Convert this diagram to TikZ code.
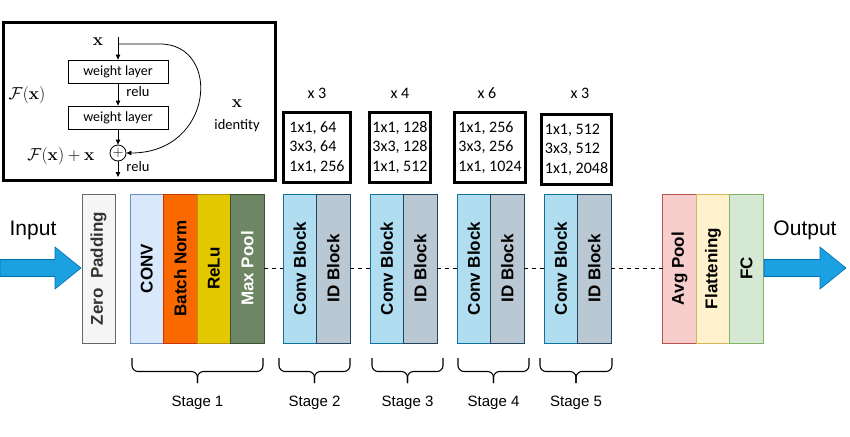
\documentclass[tikz,border=0pt]{standalone}
\usepackage[no-math]{fontspec}
\usepackage{graphicx}
\setmainfont{Liberation Sans}
\newfontfamily\calibri{Carlito}
\usetikzlibrary{positioning,arrows.meta}

\definecolor{padfill}{HTML}{F5F5F5}  \definecolor{padline}{HTML}{666666}
\definecolor{convfill}{HTML}{DAE8FC} \definecolor{convline}{HTML}{6C8EBF}
\definecolor{bnfill}{HTML}{FA6800}   \definecolor{bnline}{HTML}{C73500}
\definecolor{relufill}{HTML}{E3C800} \definecolor{reluline}{HTML}{B09500}
\definecolor{poolfill}{HTML}{6D8764} \definecolor{poolline}{HTML}{3A5431}
\definecolor{cbfill}{HTML}{B1DDF0}   \definecolor{cbline}{HTML}{10739E}
\definecolor{idfill}{HTML}{BAC8D3}   \definecolor{idline}{HTML}{23445D}
\definecolor{avgfill}{HTML}{F8CECC}  \definecolor{avgline}{HTML}{B85450}
\definecolor{flatfill}{HTML}{FFF2CC} \definecolor{flatline}{HTML}{D6B656}
\definecolor{fcfill}{HTML}{D5E8D4}   \definecolor{fcline}{HTML}{82B366}
\definecolor{arrfill}{HTML}{1BA1E2}  \definecolor{arrline}{HTML}{006EAF}
\definecolor{padtext}{HTML}{333333}

\tikzset{
  layer/.style={draw, minimum width=33.5, minimum height=149, inner sep=0,
    outer sep=0, line width=0.8, font=\fontsize{17}{20}\selectfont\bfseries},
  cfg/.style={draw, line width=3.2, minimum height=70, inner sep=0, align=left,
    font=\calibri\fontsize{16}{19.5}\selectfont},
  mult/.style={font=\calibri\fontsize{16}{19}\selectfont},
  wlayer/.style={draw, line width=0.8, minimum width=100, minimum height=23,
    inner sep=0, font=\calibri\fontsize{14}{16}\selectfont},
  small/.style={font=\calibri\fontsize{14.5}{16}\selectfont},
  mathlbl/.style={font=\fontsize{18}{20}\selectfont},
  arr/.style={line width=0.8, -{Triangle[length=5pt,width=4.5pt]}},
  link/.style={dashed, dash pattern=on 4pt off 4pt, line width=0.8},
  bigarrow/.style={fill=arrfill, draw=arrline, line width=0.6},
  stagebrace/.style={line width=1.1, rounded corners=6},
  stage/.style={font=\fontsize{15}{18}\selectfont},
  io/.style={font=\fontsize{21}{24}\selectfont}
}

\begin{document}
\begin{tikzpicture}[x=1pt, y=-1pt]
  \useasboundingbox (0,0) rectangle (850,436);

  % residual block inset
  \draw [line width=3] (3.5,22.5) rectangle (275.5,180.5);
  \coordinate (xin) at (118,37);
  \coordinate (split) at (118,44);
  \node [mathlbl] (xtop) at (98,42) {$\mathbf{x}$};
  \node [wlayer] (wl1) at (118,71.5) {weight layer};
  \node [wlayer] (wl2) at (118,117.5) {weight layer};
  \node [draw, circle, line width=0.8, minimum size=16, inner sep=0,
         font=\fontsize{14}{14}\selectfont] (plus) at (118,153) {$+$};
  \coordinate (fout) at (118,177);
  \draw [arr] (xin) -- (wl1);
  \draw [arr] (wl1) -- (wl2);
  \draw [arr] (wl2) -- (plus);
  \draw [arr] (plus) -- (fout);
  \draw [arr] (split) -- (160,44) .. controls (222,44) and (214,153) .. (plus);
  \node [small] (relu1) at (138,92) {relu};
  \node [small] (relu2) at (138,167) {relu};
  \node [mathlbl] (fx) at (27,95) {$\mathcal{F}(\mathbf{x})$};
  \node [mathlbl] (fxx) at (61,156) {$\mathcal{F}(\mathbf{x})+\mathbf{x}$};
  \node [mathlbl] (xid) at (237,104) {$\mathbf{x}$};
  \node [small] (ident) at (237,126) {identity};

  % bottleneck settings
  \node [cfg, minimum width=67] (cfg2) at (317,147.5) {1x1, 64\\3x3, 64\\1x1, 256};
  \node [cfg, minimum width=61] (cfg3) at (400,147.5) {1x1, 128\\3x3, 128\\1x1, 512};
  \node [cfg, minimum width=71] (cfg4) at (490,147.5) {1x1, 256\\3x3, 256\\1x1, 1024};
  \node [cfg, minimum width=70] (cfg5) at (576.5,149.5) {1x1, 512\\3x3, 512\\1x1, 2048};
  \node [mult] (m2) at (317,93) {x 3};
  \node [mult] (m3) at (400,93) {x 4};
  \node [mult] (m4) at (487,93) {x 6};
  \node [mult] (m5) at (580,93) {x 3};

  % layers
  \node [layer, fill=padfill, draw=padline, text=padtext, minimum width=33]
        (pad) at (98.5,268.5) {\rotatebox{90}{Zero\ \ Padding}};
  \node [layer, fill=convfill, draw=convline] (conv) at (146.75,268.5) {\rotatebox{90}{CONV}};
  \node [layer, fill=bnfill, draw=bnline, right=0pt of conv] (bn) {\rotatebox{90}{Batch Norm}};
  \node [layer, fill=relufill, draw=reluline, right=0pt of bn] (relu) {\rotatebox{90}{ReLu}};
  \node [layer, fill=poolfill, draw=poolline, text=white, right=0pt of relu] (maxpool) {\rotatebox{90}{Max Pool}};

  \node [layer, fill=cbfill, draw=cbline] (cb2) at (299.75,268.5) {\rotatebox{90}{Conv Block}};
  \node [layer, fill=idfill, draw=idline, right=0pt of cb2] (id2) {\rotatebox{90}{ID Block}};
  \node [layer, fill=cbfill, draw=cbline] (cb3) at (386.75,268.5) {\rotatebox{90}{Conv Block}};
  \node [layer, fill=idfill, draw=idline, right=0pt of cb3] (id3) {\rotatebox{90}{ID Block}};
  \node [layer, fill=cbfill, draw=cbline] (cb4) at (473.75,268.5) {\rotatebox{90}{Conv Block}};
  \node [layer, fill=idfill, draw=idline, right=0pt of cb4] (id4) {\rotatebox{90}{ID Block}};
  \node [layer, fill=cbfill, draw=cbline] (cb5) at (560.75,268.5) {\rotatebox{90}{Conv Block}};
  \node [layer, fill=idfill, draw=idline, right=0pt of cb5] (id5) {\rotatebox{90}{ID Block}};

  \node [layer, fill=avgfill, draw=avgline] (avgpool) at (679.5,268.5) {\rotatebox{90}{Avg Pool}};
  \node [layer, fill=flatfill, draw=flatline, right=0pt of avgpool] (flat) {\rotatebox{90}{Flattening}};
  \node [layer, fill=fcfill, draw=fcline, right=0pt of flat] (fc) {\rotatebox{90}{FC}};

  \draw [link] (maxpool) -- (cb2);
  \draw [link] (id2) -- (cb3);
  \draw [link] (id3) -- (cb4);
  \draw [link] (id4) -- (cb5);
  \draw [link] (id5) -- (avgpool);

  % input / output
  \filldraw [bigarrow] (0,259.5) -- (55,259.5) -- (55,247) -- (81,268) -- (55,289)
    -- (55,276.5) -- (0,276.5) -- cycle;
  \filldraw [bigarrow] (764,259.5) -- (820,259.5) -- (820,247) -- (846,268) -- (820,289)
    -- (820,276.5) -- (764,276.5) -- cycle;
  \node [io] (input) at (33,230) {Input};
  \node [io] (output) at (805,230) {Output};

  % stages
  \foreach \l/\r/\n in {132/263/1, 279/350/2, 372/443/3, 458/529/4, 540/612/5} {
    \draw [stagebrace] (\l,358) |- ({(\l+\r)/2},371.5) -- ({(\l+\r)/2},383);
    \draw [stagebrace] (\r,358) |- ({(\l+\r)/2},371.5) -- ({(\l+\r)/2},383);
    \node [stage] (stage\n) at ({(\l+\r)/2},403) {Stage \n};
  }
\end{tikzpicture}
\end{document}
